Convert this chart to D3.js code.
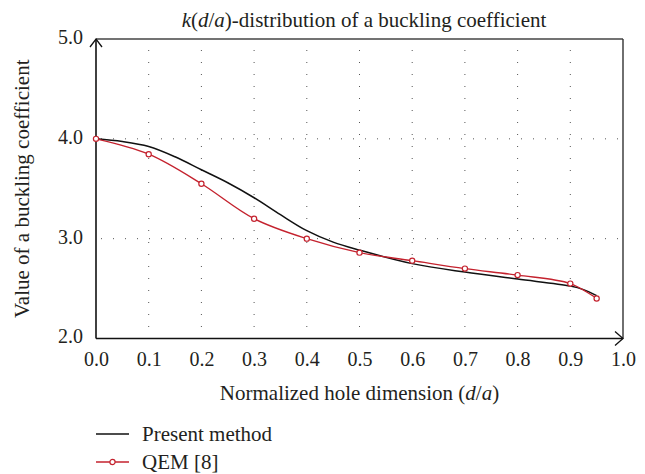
<!DOCTYPE html>
<html>
<head>
<meta charset="utf-8">
<script src="https://cdn.jsdelivr.net/npm/d3@7"></script>
<style>
  body { margin: 0; background: #fff; }
  svg text { font-family: "Liberation Serif", "Times New Roman", serif; fill: #231f20; }
</style>
</head>
<body>
<div id="chart"></div>
<script>
// data
const xTicks = [0, 0.1, 0.2, 0.3, 0.4, 0.5, 0.6, 0.7, 0.8, 0.9, 1.0];
const yTicks = [2.0, 3.0, 4.0, 5.0];
const presentX = [0, 0.05, 0.1, 0.15, 0.2, 0.25, 0.3, 0.35, 0.4, 0.45, 0.5, 0.6, 0.7, 0.8, 0.9, 0.925, 0.95];
const presentK = [4.0, 3.973, 3.923, 3.82, 3.69, 3.56, 3.41, 3.24, 3.08, 2.965, 2.885, 2.75, 2.665, 2.595, 2.525, 2.49, 2.43];
const qemX = [0, 0.1, 0.2, 0.3, 0.4, 0.5, 0.6, 0.7, 0.8, 0.9, 0.95];
const qemK = [4.0, 3.846, 3.55, 3.20, 3.00, 2.86, 2.78, 2.70, 2.635, 2.55, 2.40];
const legendLabels = ["Present method", "QEM [8]"];

const W = 645, H = 474;
const red = "#c4222e";

const x = d3.scaleLinear([0, 1], [96, 623]);
const y = d3.scaleLinear([2, 5], [338.5, 39]);

const svg = d3.select("#chart").append("svg")
  .attr("width", W)
  .attr("height", H);

// GRID (dotted)
// -----------------------------------------------------------------
svg.append("g")
  .selectAll("line")
  .data(xTicks.slice(1, -1))
  .enter()
  .append("line")
  .attr("x1", d => x(d)).attr("x2", d => x(d))
  .attr("y1", y(5)).attr("y2", y(2))
  .attr("stroke", "#555")
  .attr("stroke-width", 1)
  .attr("stroke-dasharray", "1,11")
  .attr("stroke-dashoffset", -11);

svg.append("g")
  .selectAll("line")
  .data([3.0, 4.0])
  .enter()
  .append("line")
  .attr("x1", x(0)).attr("x2", x(1))
  .attr("y1", d => y(d)).attr("y2", d => y(d))
  .attr("stroke", "#555")
  .attr("stroke-width", 1)
  .attr("stroke-dasharray", "1,11")
  .attr("stroke-dashoffset", -5);

// FRAME: top + right border, axes with arrows
// -----------------------------------------------------------------
svg.append("line")
  .attr("x1", x(0)).attr("x2", x(1))
  .attr("y1", y(5)).attr("y2", y(5))
  .attr("stroke", "#444").attr("stroke-width", 1.3);
svg.append("line")
  .attr("x1", x(1)).attr("x2", x(1))
  .attr("y1", y(5)).attr("y2", y(2))
  .attr("stroke", "#333").attr("stroke-width", 1.4);

svg.append("line")
  .attr("x1", x(0)).attr("x2", x(0))
  .attr("y1", y(2)).attr("y2", y(5))
  .attr("stroke", "#111").attr("stroke-width", 1.6);
svg.append("line")
  .attr("x1", x(0)).attr("x2", x(1))
  .attr("y1", y(2)).attr("y2", y(2))
  .attr("stroke", "#111").attr("stroke-width", 1.6);

svg.append("path")
  .attr("d", `M${x(0) - 6},${y(5) + 8}L${x(0)},${y(5)}L${x(0) + 6},${y(5) + 8}`)
  .attr("fill", "none").attr("stroke", "#111").attr("stroke-width", 1.3);
svg.append("path")
  .attr("d", `M${x(1) - 8},${y(2) - 7}L${x(1)},${y(2)}L${x(1) - 8},${y(2) + 7}`)
  .attr("fill", "none").attr("stroke", "#111").attr("stroke-width", 1.3);

// TICK LABELS
// -----------------------------------------------------------------
const xAxis = svg.append("g")
  .attr("transform", `translate(0,${y(2)})`)
  .call(d3.axisBottom(x).tickValues(xTicks).tickFormat(d3.format(".1f")).tickSize(0).tickPadding(13));
xAxis.select(".domain").remove();

const yAxis = svg.append("g")
  .attr("transform", `translate(${x(0)},-2)`)
  .call(d3.axisLeft(y).tickValues(yTicks).tickFormat(d3.format(".1f")).tickSize(0).tickPadding(13));
yAxis.select(".domain").remove();

svg.selectAll(".tick text")
  .attr("font-family", "Liberation Serif")
  .attr("font-size", 20)
  .attr("fill", "#231f20");

// CURVES
// -----------------------------------------------------------------
const line = d3.line().curve(d3.curveCatmullRom.alpha(0.5));

svg.append("path")
  .attr("d", line(presentX.map((d, i) => [x(d), y(presentK[i])])))
  .attr("fill", "none")
  .attr("stroke", "#111")
  .attr("stroke-width", 1.5);

svg.append("path")
  .attr("d", line(qemX.map((d, i) => [x(d), y(qemK[i])])))
  .attr("fill", "none")
  .attr("stroke", red)
  .attr("stroke-width", 1.4);

svg.append("g")
  .selectAll("circle")
  .data(qemX)
  .enter()
  .append("circle")
  .attr("cx", d => x(d))
  .attr("cy", (d, i) => y(qemK[i]))
  .attr("r", 2.6)
  .attr("fill", "#fff")
  .attr("stroke", red)
  .attr("stroke-width", 1.2);

// TITLES
// -----------------------------------------------------------------
const title = svg.append("text")
  .attr("x", 364)
  .attr("y", 27)
  .attr("text-anchor", "middle")
  .attr("font-size", 21);
title.append("tspan").attr("font-style", "italic").text("k");
title.append("tspan").text("(");
title.append("tspan").attr("font-style", "italic").text("d");
title.append("tspan").text("/");
title.append("tspan").attr("font-style", "italic").text("a");
title.append("tspan").text(")-distribution of a buckling coefficient");

const xLabel = svg.append("text")
  .attr("x", (x(0) + x(1)) / 2)
  .attr("y", 400)
  .attr("text-anchor", "middle")
  .attr("font-size", 21);
xLabel.append("tspan").text("Normalized hole dimension (");
xLabel.append("tspan").attr("font-style", "italic").text("d");
xLabel.append("tspan").text("/");
xLabel.append("tspan").attr("font-style", "italic").text("a");
xLabel.append("tspan").text(")");

svg.append("text")
  .attr("transform", `translate(29,${(y(2) + y(5)) / 2}) rotate(-90)`)
  .attr("text-anchor", "middle")
  .attr("font-size", 21)
  .text("Value of a buckling coefficient");

// LEGEND
// -----------------------------------------------------------------
const leg = svg.append("g")
  .selectAll("g")
  .data(legendLabels)
  .enter()
  .append("g")
  .attr("transform", (d, i) => `translate(96,${434 + i * 28})`);

leg.append("line")
  .attr("x1", 0).attr("x2", 33)
  .attr("stroke", (d, i) => i === 0 ? "#111" : red)
  .attr("stroke-width", (d, i) => i === 0 ? 1.5 : 1.4);

leg.filter((d, i) => i === 1)
  .append("circle")
  .attr("cx", 16.5).attr("r", 2.6)
  .attr("fill", "#fff")
  .attr("stroke", red)
  .attr("stroke-width", 1.2);

leg.append("text")
  .attr("x", 46)
  .attr("y", 7)
  .attr("font-size", 21)
  .text(d => d);
</script>
</body>
</html>
